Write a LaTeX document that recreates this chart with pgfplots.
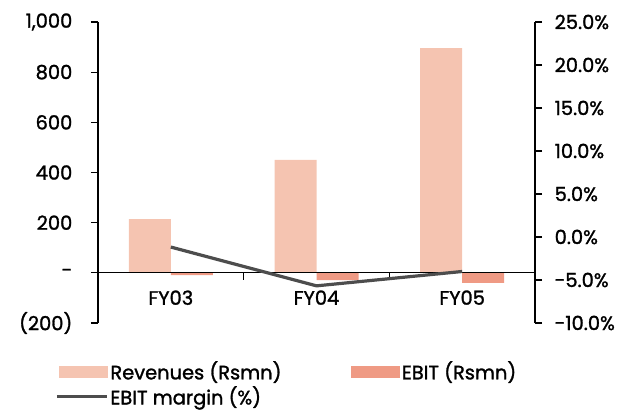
\documentclass[border=0pt]{standalone}
\usepackage{fontspec}
\setmainfont{Poppins}[UprightFeatures={FakeBold=1.4}]
\usepackage{pgfplots}
\pgfplotsset{compat=1.18}
\definecolor{revcol}{HTML}{F5C4B1}
\definecolor{ebitcol}{HTML}{EF9A84}
\definecolor{margincol}{HTML}{4D4D4D}

\begin{document}
\begin{tikzpicture}
\fontsize{19.5}{22}\selectfont
\path[use as bounding box] (0,0) rectangle (635bp,412bp);
% Revenues and EBIT (left axis, Rs mn)
\begin{axis}[
  at={(98bp,89bp)}, anchor=south west,
  scale only axis, width=437bp, height=301bp,
  xmin=-0.5, xmax=2.5, ymin=-200, ymax=1000,
  axis y line*=left, axis x line*=middle,
  axis line style={-, line width=1.3bp},
  tick style={line width=1.3bp, black},
  tick align=outside, major tick length=7bp,
  ytick={-200,0,200,400,600,800,1000},
  yticklabels={(200),-,200,400,600,800,{1,000}},
  yticklabel style={xshift=-12bp, font=\fontsize{19.5}{22}\selectfont},
  xtick={0.5,1.5}, xticklabels={},
  extra x ticks={0,1,2},
  extra x tick labels={FY03,FY04,FY05},
  extra x tick style={major tick length=0pt},
  xticklabel style={yshift=-11bp, font=\fontsize{19.5}{22}\selectfont},
  ybar=0pt, bar width=42bp,
  axis on top,
]
\addplot[fill=revcol, draw=none] coordinates {(0,214) (1,450) (2,896)};
\addplot[fill=ebitcol, draw=none] coordinates {(0,-9) (1,-29) (2,-40)};
\end{axis}
% EBIT margin (right axis, %)
\begin{axis}[
  at={(98bp,89bp)}, anchor=south west,
  scale only axis, width=437bp, height=301bp,
  xmin=-0.5, xmax=2.5, ymin=-10, ymax=25,
  axis y line*=right, axis x line=none,
  axis line style={-, line width=1.3bp},
  tick style={line width=1.3bp, black},
  tick align=outside, major tick length=7bp,
  ytick={-10,-5,0,5,10,15,20,25},
  yticklabels={-10.0\%,-5.0\%,0.0\%,5.0\%,10.0\%,15.0\%,20.0\%,25.0\%},
  yticklabel style={xshift=6bp, font=\fontsize{19.5}{22}\selectfont},
  legend columns=2,
  legend cell align=left,
  legend style={
    at={(0,0)}, anchor=north west, xshift=-43bp, yshift=-36bp,
    draw=none, fill=none, inner sep=0pt, row sep=0bp,
    font=\fontsize{19.5}{22}\selectfont,
    /tikz/every odd column/.append style={column sep=0bp},
    /tikz/every even column/.append style={column sep=68bp},
  },
]
\addlegendimage{legend image code/.code={\fill[revcol] (0bp,-5.5bp) rectangle (48bp,5.5bp);}}
\addlegendimage{legend image code/.code={\fill[ebitcol] (0bp,-5.5bp) rectangle (48bp,5.5bp);}}
\addplot[margincol, line width=3.2bp,
  legend image code/.code={\draw[margincol, line width=3.2bp] (-2bp,0) -- (48bp,0);}]
  coordinates {(0,-1.17) (1,-5.68) (2,-4.01)};
\legend{Revenues (Rsmn), EBIT (Rsmn), EBIT margin (\%)}
\end{axis}
\end{tikzpicture}
\end{document}
